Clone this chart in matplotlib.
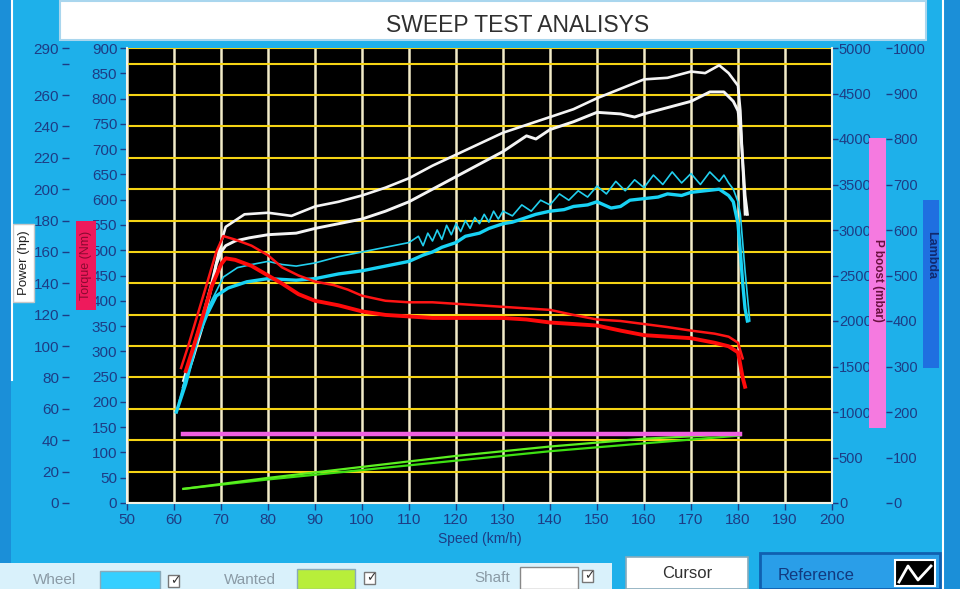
import matplotlib

matplotlib.use("Agg")
import matplotlib.pyplot as plt
from matplotlib.lines import Line2D
from matplotlib.patches import Rectangle

# ---- data ----
speed_ticks = list(range(50, 201, 10))
hp_ticks = list(range(0, 281, 20)) + [290]
hp_tick_labels = [str(v) for v in range(0, 261, 20)] + ["", "290"]
nm_ticks = list(range(0, 901, 50))
rpm_ticks = list(range(0, 5001, 500))
bar_ticks = list(range(0, 1001, 100))

# shaft power, two runs (hp)
shaft_a_x = [62, 64, 66, 68, 70, 71, 73, 75, 80, 85, 90, 95, 100, 105, 110, 115, 120,
             125, 130, 135, 140, 145, 150, 155, 160, 165, 170, 173, 176, 178, 180,
             180.5, 181, 181.5]
shaft_a_hp = [78, 98, 118, 140, 166, 176, 180, 184, 185, 183, 189, 192, 196, 201, 207,
              215, 222, 229, 236, 241, 246, 251, 258, 264, 270, 271, 275, 274, 279, 274,
              266, 250, 216, 184]
shaft_b_x = [62, 64, 66, 68, 69, 70, 71, 73, 76, 80, 86, 90, 95, 100, 105, 110, 115, 120,
             125, 130, 135, 137, 140, 145, 150, 155, 158, 160, 165, 170, 174, 177, 179,
             180, 180.5, 181, 181.5, 182]
shaft_b_hp = [74, 92, 112, 138, 152, 160, 164, 167, 169, 171, 172, 175, 178, 181, 186,
              192, 200, 208, 216, 224, 234, 232, 238, 243, 249, 248, 246, 248, 252, 256,
              262, 262, 256, 250, 240, 218, 196, 184]

# wheel power, two runs (hp)
wheel_a_x = [61, 63.5, 65.5, 67.5, 70.5, 73.5, 76.5, 80, 83, 86, 90, 95, 100, 105, 110,
             112, 113, 114, 115, 116, 117, 118, 119, 120, 121, 122, 123, 124, 125, 126,
             127, 128, 129, 130, 132, 134, 136, 138, 140, 142, 144, 146, 148, 150, 152,
             154, 156, 158, 160, 162, 164, 166, 168, 170, 172, 174, 176, 177, 178, 179,
             180, 180.5, 181, 181.5, 182, 182.5]
wheel_a_hp = [64, 92, 110, 126, 144, 150, 152, 154, 152, 151, 153, 157, 160, 163, 166,
              170, 164, 172, 167, 174, 168, 177, 171, 178, 173, 180, 175, 182, 178, 184,
              179, 186, 181, 186, 183, 190, 186, 193, 190, 197, 193, 199, 195, 202, 197,
              205, 199, 206, 201, 209, 203, 211, 204, 210, 203, 211, 205, 209, 204, 200,
              192, 184, 166, 148, 132, 116]
wheel_b_x = [60.5, 62.5, 65, 67, 69, 71.5, 75.5, 80, 86, 90, 95, 100, 105, 110, 113, 115,
             117, 120, 122, 125, 127, 130, 132, 135, 137, 140, 143, 145, 148, 150, 153,
             155, 157, 160, 163, 165, 168, 170, 173, 176, 178, 179, 180, 180.5, 181,
             181.5, 182]
wheel_b_hp = [58, 76, 105, 120, 132, 137, 141, 143, 142, 143, 146, 148, 151, 154, 158,
              160, 163, 166, 170, 172, 175, 178, 179, 182, 184, 186, 187, 189, 190, 192,
              188, 189, 193, 194, 195, 197, 196, 198, 199, 200, 196, 192, 178, 160, 140,
              124, 116]

# torque, two runs (Nm)
torque_a_x = [61.5, 63, 65, 67, 69, 70.5, 73, 76.5, 80, 83, 86.5, 90, 94, 97, 100, 105,
              110, 115, 120, 125, 130, 135, 140, 145, 150, 155, 160, 165, 170, 175, 178,
              180, 181]
torque_a_nm = [267, 310, 372, 434, 497, 528, 521, 509, 490, 466, 450, 438, 431, 422, 410,
               400, 397, 397, 394, 391, 388, 385, 382, 372, 363, 360, 354, 348, 341, 335,
               329, 317, 286]
torque_b_x = [62.5, 64, 66, 68, 70, 71, 73, 76.5, 80, 83, 86.5, 90, 95, 100, 105, 110,
              115, 120, 125, 130, 135, 140, 145, 150, 155, 160, 165, 170, 175, 178, 180,
              180.5, 181, 181.5]
torque_b_nm = [261, 304, 366, 428, 472, 484, 481, 469, 450, 434, 413, 400, 391, 379, 372,
               369, 366, 366, 366, 366, 363, 357, 354, 351, 341, 332, 329, 326, 317, 310,
               298, 273, 248, 230]

# boost (mbar) and wanted (hp)
boost_x = [62, 180.5]
boost_mbar = [152, 152]
wanted_x = [62, 80, 100, 120, 140, 160, 180.5]
wanted_a_hp = [9, 15, 21, 27, 33, 38, 43]
wanted_b_hp = [9, 16, 23, 30, 36, 41, 44]

# ---- style ----
W, H = 960, 589
BG = "#1eb0ea"
NAVY = "#1d3c84"
plt.rcParams["font.family"] = ["Liberation Sans", "DejaVu Sans"]

fig = plt.figure(figsize=(W / 100, H / 100), dpi=100, facecolor=BG)


def box(x, y, w, h, **kw):
    # pixel coords, origin at top-left
    r = Rectangle((x / W, 1 - (y + h) / H), w / W, h / H,
                  transform=fig.transFigure, **kw)
    fig.add_artist(r)
    return r


def text(x, y, s, **kw):
    fig.text(x / W, 1 - y / H, s, **kw)


def pxline(xs, ys, **kw):
    fig.add_artist(Line2D([x / W for x in xs], [1 - y / H for y in ys],
                          transform=fig.transFigure, **kw))


def check(x, y):
    box(x, y, 11, 12, facecolor="white", edgecolor="#777")
    text(x + 2, y + 6, "\u2713", fontsize=9, color="#333",
         family=["DejaVu Sans"], va="center")


# frame pieces around the screen
box(0, 0, 11, H, facecolor="#1b8fd8", edgecolor="none")
pxline([12, 12], [0, 380], color="white", lw=1.5)
pxline([943, 943], [0, H], color="white", lw=1.5)
box(944, 0, 16, H, facecolor="#1b8fd8", edgecolor="none")

box(60, 1, 866, 39, facecolor="white", edgecolor="#a9d6ee", lw=1.5)
text(518, 25, "SWEEP TEST ANALISYS", ha="center", va="center",
     fontsize=16.5, color="#303030")

ax = fig.add_axes([127 / W, 1 - 503 / H, (832 - 127) / W, (503 - 48) / H])
ax.set_facecolor("black")
ax.set_xlim(50, 200)
ax.set_ylim(0, 290)
ax.set_xticks(speed_ticks)
ax.set_yticks(hp_ticks)
ax.set_yticklabels(hp_tick_labels)
ax.grid(axis="x", color="#f3ecc8", lw=1.8)
ax.grid(axis="y", color="#f5d415", lw=1.5)
ax.set_axisbelow(True)
ax.spines["left"].set_position(("outward", 42))
ax.spines["left"].set_visible(False)
ax.spines["right"].set_visible(False)
ax.spines["top"].set_visible(False)
ax.spines["bottom"].set_color("#f3f3e6")
ax.spines["bottom"].set_linewidth(1.5)
ax.tick_params(axis="both", colors=NAVY, labelcolor=NAVY, labelsize=11,
               length=5, width=1, pad=2)
ax.set_xlabel("Speed (km/h)", fontsize=10, color=NAVY, labelpad=4)

ax.plot(wanted_x, wanted_a_hp, color="#3ee012", lw=1.6)
ax.plot(wanted_x, wanted_b_hp, color="#5cf020", lw=1.6)
ax.plot(shaft_a_x, shaft_a_hp, color="#f4f4f4", lw=1.9)
ax.plot(shaft_b_x, shaft_b_hp, color="#f4f4f4", lw=2.1)
ax.plot(wheel_a_x, wheel_a_hp, color="#22cfee", lw=1.2)
ax.plot(wheel_b_x, wheel_b_hp, color="#18d2f4", lw=2.4)

ax_nm = ax.twinx()
ax_nm.yaxis.tick_left()
ax_nm.set_ylim(0, 900)
ax_nm.set_yticks(nm_ticks)
ax_nm.tick_params(axis="y", colors=NAVY, labelcolor=NAVY, labelsize=11,
                  length=5, width=1, pad=2)
for side in ["right", "top", "bottom"]:
    ax_nm.spines[side].set_visible(False)
ax_nm.spines["left"].set_color("#f3f3e6")
ax_nm.spines["left"].set_linewidth(1.5)
ax_nm.plot(torque_a_x, torque_a_nm, color="#ff1414", lw=1.8)
ax_nm.plot(torque_b_x, torque_b_nm, color="#ff0a0a", lw=2.8)

ax_rpm = ax.twinx()
ax_rpm.set_ylim(0, 5000)
ax_rpm.set_yticks(rpm_ticks)
ax_rpm.tick_params(axis="y", colors=NAVY, labelcolor=NAVY, labelsize=10.5,
                   length=4, width=1, pad=1)
for side in ["left", "top", "bottom"]:
    ax_rpm.spines[side].set_visible(False)
ax_rpm.spines["right"].set_color("#f3f3e6")
ax_rpm.spines["right"].set_linewidth(1.5)

ax_bar = ax.twinx()
ax_bar.set_ylim(0, 1000)
ax_bar.set_yticks(bar_ticks)
ax_bar.spines["right"].set_position(("outward", 39))
for side in ["left", "right", "top", "bottom"]:
    ax_bar.spines[side].set_visible(False)
ax_bar.tick_params(axis="y", colors=NAVY, labelcolor=NAVY, labelsize=10.5,
                   length=4, width=1, pad=1)
ax_bar.plot(boost_x, boost_mbar, color="#f060e0", lw=3.2)

# axis name tags
box(13, 224, 21, 78, facecolor="white", edgecolor="#c8c8c8")
text(23.5, 263, "Power (hp)", rotation=90, ha="center", va="center",
     fontsize=9.5, color="#202020")
box(76, 221, 20, 89, facecolor="#ee1a5c", edgecolor="none")
text(86, 265, "Torque (Nm)", rotation=90, ha="center", va="center",
     fontsize=9, color="#8a0a30")
box(869, 138, 17, 290, facecolor="#f57ae0", edgecolor="none")
text(877.5, 280, "P boost (mbar)", rotation=-90, ha="center", va="center",
     fontsize=8.5, color="#6a1040", fontweight="bold")
box(923, 200, 16, 168, facecolor="#1f6fe0", edgecolor="none")
text(931, 255, "Lambda", rotation=-90, ha="center", va="center",
     fontsize=9, color="#102a70", fontweight="bold")

# bottom controls
box(0, 563, 612, 26, facecolor="#d9f1fb", edgecolor="none")
text(55, 580, "Wheel", ha="center", va="center", fontsize=11, color="#8a9aa5")
box(100, 571, 60, 18, facecolor="#35cfff", edgecolor="#8ab")
check(168, 575)
text(250, 580, "Wanted", ha="center", va="center", fontsize=11, color="#8a9aa5")
box(297, 569, 58, 20, facecolor="#b8ee3a", edgecolor="#8ab")
check(364, 572)
text(492, 578, "Shaft", ha="center", va="center", fontsize=11, color="#8a9aa5")
box(520, 567, 58, 22, facecolor="white", edgecolor="#888")
check(582, 570)

box(626, 557, 122, 32, facecolor="white", edgecolor="#88aabb", lw=1.2)
text(687, 573, "Cursor", ha="center", va="center", fontsize=12, color="#303030")

box(760, 553, 180, 36, facecolor="#2a9ee8", edgecolor="#1060b0", lw=2)
text(816, 576, "Reference", ha="center", va="center", fontsize=12, color="#123a80")
box(895, 560, 40, 26, facecolor="black", edgecolor="white", lw=1.5)
pxline([899, 908, 918, 931], [582, 566, 580, 566], color="white", lw=2)

fig.savefig("out.png", dpi=100, facecolor=BG)
